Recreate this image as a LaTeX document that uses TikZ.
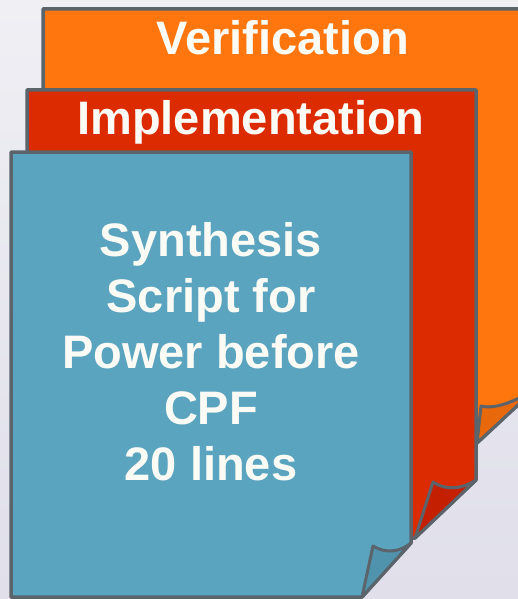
\documentclass[tikz,border=0pt]{standalone}
\usepackage{fontspec}
\setmainfont{Liberation Sans}
\definecolor{bgtop}{HTML}{EFEFF4}
\definecolor{bgbot}{HTML}{E0DFEA}
\definecolor{edge}{HTML}{5B636B}
\definecolor{verif}{HTML}{FF760F}
\definecolor{verifflap}{HTML}{E8680C}
\definecolor{impl}{HTML}{DD2B00}
\definecolor{implflap}{HTML}{C42000}
\definecolor{synth}{HTML}{5AA4BF}
\definecolor{synthflap}{HTML}{4F93AD}
\definecolor{labeltext}{HTML}{FBFBF6}
\begin{document}
\begin{tikzpicture}[x=1pt,y=-1pt,
  page/.style={draw=edge,line width=3.5pt,line join=round},
  flap/.style={draw=edge,line width=3pt,line join=round},
  label/.style={text=labeltext,font=\bfseries\fontsize{47}{56}\selectfont,inner sep=0pt,align=center}]
\useasboundingbox (0,0) rectangle (518,599);
\shade[top color=bgtop,bottom color=bgbot] (0,0) rectangle (518,599);
\begin{scope}
  \clip (0,0) rectangle (518,599);
  % back sheet: verification
  \draw[page,fill=verif] (43,9) -- (560,9) -- (560,366) -- (477,443) -- (43,443) -- cycle;
  \draw[flap,fill=verifflap] (477,443) -- (481,406) .. controls (500,411) and (535,394) .. (560,366) -- cycle;
  % middle sheet: implementation
  \draw[page,fill=impl] (27,90) -- (476,90) -- (476,480) -- (415,538) -- (27,538) -- cycle;
  \draw[flap,fill=implflap] (415,538) -- (433,482) .. controls (447,491) and (462,489) .. (476,480) -- cycle;
  % front sheet: synthesis
  \draw[page,fill=synth] (11,152) -- (411,152) -- (411,543) -- (362,597) -- (11,597) -- cycle;
  \draw[flap,fill=synthflap] (362,597) -- (373,546) .. controls (386,554) and (400,552) .. (411,543) -- cycle;
\end{scope}
\node[label,anchor=base] (verifT) at (283,55) {Verification};
\node[label,anchor=base] (implT) at (251,135) {Implementation};
% multi-line node: its base anchor sits on the last line
\node[label,anchor=base] (synthT) at (211,480) {Synthesis\\Script for\\Power before\\CPF\\20 lines};
\end{tikzpicture}
\end{document}
